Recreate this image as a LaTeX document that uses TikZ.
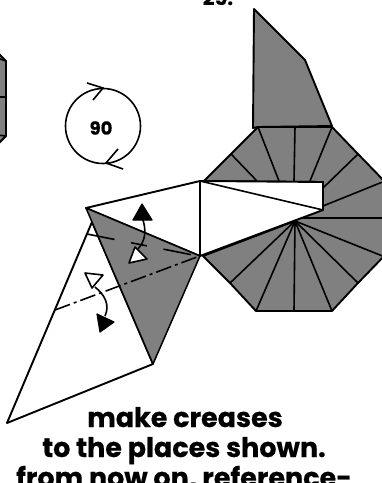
\documentclass[tikz,border=0pt]{standalone}
\usepackage{fontspec}
\setmainfont{Poppins}[BoldFeatures={FakeBold=0.5}]
\definecolor{fold}{gray}{0.5}
\tikzset{
  edge/.style={draw=black,line width=1.9pt,line join=round},
  panel/.style={edge,fill=fold},
  sheet/.style={edge,fill=white},
  crease/.style={black,line width=1.6pt},
  tipblack/.style={draw=black,fill=black,line width=1.2pt,line join=round},
  tipwhite/.style={draw=black,fill=white,line width=1.6pt,line join=round},
  caption/.style={font=\bfseries\fontsize{27}{27}\selectfont,anchor=base,inner sep=0pt}
}
\begin{document}
\begin{tikzpicture}[x=1pt,y=-1pt]
\useasboundingbox (0,0) rectangle (382,483);
\clip (0,0) rectangle (382,483);
% coordinates
\coordinate (c) at (295,221);
\coordinate (t1) at (258,127);
\coordinate (t2) at (295,127);
\coordinate (t3) at (332,127);
\coordinate (o1) at (231,154);
\coordinate (o2) at (204,181);
\coordinate (o3) at (358,154);
\coordinate (o4) at (390,187);
\coordinate (o5) at (390,250);
\coordinate (o6) at (358,283);
\coordinate (o7) at (332,311);
\coordinate (o8) at (294,311);
\coordinate (o9) at (256,311);
\coordinate (o10) at (230,283);
\coordinate (o11) at (203,256);
\coordinate (wa) at (200,181);
\coordinate (wb) at (323,182);
\coordinate (wc) at (323,210);
\coordinate (wd) at (200,256);
\coordinate (k) at (86,208);
\coordinate (m) at (153,364);
\coordinate (n) at (7,423);
\coordinate (e) at (92,222);
% upper flap
\draw[panel] (254,9) -- (305,60) -- (332,126) -- (258,127) -- (253,128) -- cycle;
% octagon
\draw[panel] (t1) -- (t3) -- (o3) -- (o4) -- (o5) -- (o6) -- (o7) -- (o9) -- (o10) -- (o11) -- (c) -- (wb) -- (o2) -- (o1) -- cycle;
% fan lines upper
\draw[crease] (t1) -- (279,181) (t2) -- (294,181) (t3) -- (310,181) (o1) -- (257,181) (o3) -- (323,188);
\draw[crease] (385,181) -- (323,206);
\draw[crease] (298,218) -- (385,218);
% fan lines lower
\foreach \p in {o6,o7,o8,o9,o10}{\draw[crease] (c) -- (\p);}
\draw[crease] (c) -- (385,257);
% white strip
\draw[sheet] (wa) -- (wb) -- (wc) -- (wd) -- cycle;
\draw[crease] (wa) -- (wc);
% left flap
\draw[sheet] (k) -- (wa) -- (wd) -- cycle;
\draw[sheet] (e) -- (n) -- (m) -- cycle;
\draw[panel,line width=1.5pt] (k) -- (wd) -- (m) -- cycle;
% creases
\draw[crease,dash pattern=on 28pt off 17pt on 16pt off 17pt] (87,234) -- (198,256);
\draw[crease,dash pattern=on 16pt off 4pt on 3pt off 4pt] (55,310) -- (197,257);
% fold arrows
\draw[crease] (143,220) .. controls (146,230) and (146,240) .. (138,249);
\draw[tipblack] (142,204) -- (133,220) -- (152,220) -- cycle;
\draw[tipwhite] (135,247) -- (129,263) -- (147,259) -- cycle;
\draw[crease] (95,287) .. controls (105,295) and (110,305) .. (105,316);
\draw[tipwhite] (85,273) -- (103,275) -- (92,288) -- cycle;
\draw[tipblack] (97,314) -- (114,322) -- (100,332) -- cycle;
% left fragment
\draw[panel] (-3,52) -- (6,61) -- (6,136) -- (-3,145) -- cycle;
\draw[crease] (-2,97) -- (6,97) (-3,58) -- (6,61) (-3,135) -- (6,136);
% turn-over symbol
\node[circle,draw=black,line width=1.6pt,minimum size=75pt,inner sep=0pt] (turn) at (103,126) {};
\node[font=\bfseries\fontsize{18}{18}\selectfont,inner sep=0pt] (deg) at (101,128) {90};
\draw[crease] (87,83) -- (103,88) -- (93,100);
\draw[crease] (123,169) -- (106,163) -- (118,149);
% captions
\node[caption,font=\bfseries\fontsize{20}{20}\selectfont] (num) at (218,5) {25.};
\node[caption] (l1) at (185,427) {make creases};
\node[caption] (l2) at (184,457) {to the places shown.};
\node[caption] (l3) at (184,487) {from now on, reference-};
\end{tikzpicture}
\end{document}
